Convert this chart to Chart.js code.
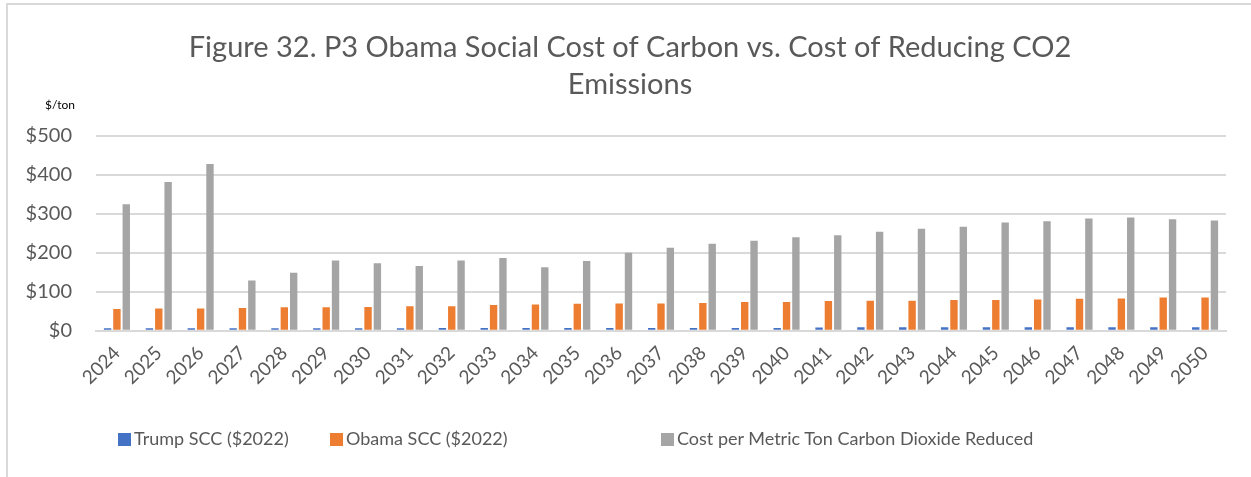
<!DOCTYPE html>
<html>
<head>
<meta charset="utf-8">
<script src="https://cdn.jsdelivr.net/npm/chart.js@4/dist/chart.umd.min.js"></script>
<style>
  body { margin: 0; background: #fff; }
  #frame { position: absolute; left: 6px; top: 3px; width: 1300px; height: 500px;
           border-top: 2px solid #d9d9d9; border-left: 2px solid #d9d9d9; }
  #wrap { position: absolute; left: 0; top: 0; width: 1251px; height: 477px; }
  .leg { position: absolute; top: 427px; font: 18px Lato, "Open Sans", sans-serif; color: #595959;
         white-space: nowrap; line-height: 22px; }
  .leg span { display: inline-block; width: 13px; height: 13px; margin-right: 3px; vertical-align: -1px; }
</style>
</head>
<body>
<div id="frame"></div>
<div id="wrap"><canvas id="chart"></canvas></div>
<div id="legend"></div>
<script>
// years on the x axis
const years = ['2024','2025','2026','2027','2028','2029','2030','2031','2032','2033','2034','2035','2036','2037',
  '2038','2039','2040','2041','2042','2043','2044','2045','2046','2047','2048','2049','2050'];

// $/ton values
const trumpScc = [6,6,6,6,6,6,6,6,7,7,7,7,7,7,7,7,7,8,9,9,9,9,9,9,9,9,9];
const obamaScc = [56,57,57,58,60,60,61,63,63,66,67,69,70,70,71,74,74,76,77,77,79,79,80,82,83,85,85];
const costReduced = [325,382,428,129,149,180,173,166,180,187,163,179,200,213,223,231,240,245,254,262,267,278,281,288,291,286,283];

const yTicks = [0,100,200,300,400,500];

const titleLines = ['Figure 32. P3 Obama Social Cost of Carbon vs. Cost of Reducing CO2', 'Emissions'];

const fontName = 'Lato, "Open Sans", sans-serif';
const grey = '#595959';

// title (centred on the whole frame, like Excel) and the small "$/ton" label
const extraText = {
  id: 'extraText',
  afterDraw(chart) {
    const ctx = chart.ctx;
    ctx.save();
    ctx.textBaseline = 'middle';
    ctx.textAlign = 'center';
    ctx.font = '29px ' + fontName;
    ctx.fillStyle = grey;
    ctx.fillText(titleLines[0], 630, 48);
    ctx.fillText(titleLines[1], 630, 85);
    ctx.textAlign = 'left';
    ctx.font = '12px ' + fontName;
    ctx.fillStyle = '#000';
    ctx.fillText('$/ton', 45, 105);
    ctx.restore();
  }
};

const ctx = document.getElementById('chart').getContext('2d');
const chart = new Chart(ctx, {
  type: 'bar',
  data: {
    labels: years,
    datasets: [
      { label: 'Trump SCC ($2022)', data: trumpScc, backgroundColor: '#4472c4' },
      { label: 'Obama SCC ($2022)', data: obamaScc, backgroundColor: '#ed7d31' },
      { label: 'Cost per Metric Ton Carbon Dioxide Reduced', data: costReduced, backgroundColor: '#a5a5a5' }
    ]
  },
  options: {
    responsive: true,
    maintainAspectRatio: false,
    animation: false,
    datasets: { bar: { categoryPercentage: 0.67, barPercentage: 0.79 } },
    layout: { padding: { left: 0, right: 25, top: 136, bottom: 85 } },
    plugins: {
      title: { display: false },
      legend: { display: false },
      tooltip: { enabled: false }
    },
    scales: {
      x: {
        afterFit(scale) { scale.paddingLeft = 0; },
        grid: { display: false },
        border: { color: '#d9d9d9', width: 2 },
        ticks: {
          minRotation: 45, maxRotation: 45,
          font: { family: fontName, size: 19 },
          color: grey
        }
      },
      y: {
        min: 0, max: 500,
        afterFit(scale) { scale.width = 96; },
        afterBuildTicks(scale) { scale.ticks = yTicks.map(v => ({ value: v })); },
        border: { display: false },
        grid: { color: '#d9d9d9', lineWidth: 2, drawTicks: false },
        ticks: {
          padding: 24,
          font: { family: fontName, size: 20 },
          color: grey,
          callback: v => '$' + v
        }
      }
    }
  },
  plugins: [extraText]
});

// legend laid out like the Excel original
const legendX = [118, 330, 661];
const legendEl = document.getElementById('legend');
chart.data.datasets.forEach((ds, i) => {
  const item = document.createElement('div');
  item.className = 'leg';
  item.style.left = legendX[i] + 'px';
  const box = document.createElement('span');
  box.style.background = ds.backgroundColor;
  item.appendChild(box);
  item.appendChild(document.createTextNode(ds.label));
  legendEl.appendChild(item);
});
</script>
</body>
</html>
